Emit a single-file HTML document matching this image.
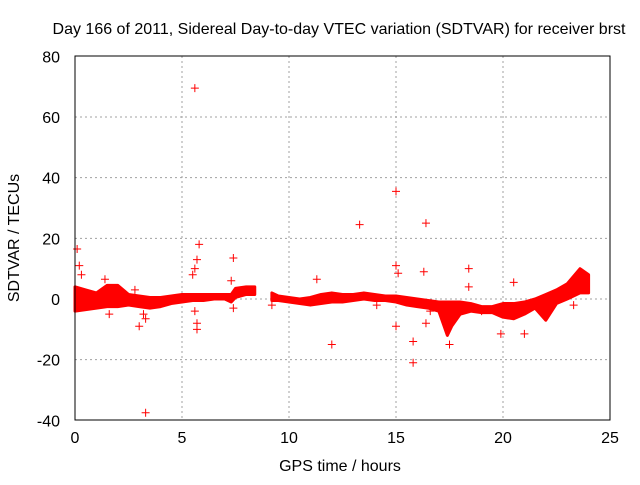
<!DOCTYPE html>
<html><head><meta charset="utf-8"><style>
body{margin:0;background:#fff}
svg text{font-family:"Liberation Sans",sans-serif;font-size:16px;fill:#000}
</style></head><body>
<svg id="chart" width="640" height="480">
<text x="339" y="34" text-anchor="middle">Day 166 of 2011, Sidereal Day-to-day VTEC variation (SDTVAR) for receiver brst</text>
<text x="340" y="471" text-anchor="middle">GPS time / hours</text>
<text transform="translate(19,238) rotate(-90)" text-anchor="middle">SDTVAR / TECUs</text>
<g id="grid"></g><g id="band"></g><g id="pts"></g>
<rect x="75" y="56" width="535" height="364" fill="none" stroke="#000" stroke-width="1"/>
</svg>
<script>
const xTicks=[0,5,10,15,20,25];
const yTicks=[-40,-20,0,20,40,60,80];
const bandSeg1T=[0,0.5,1,1.5,2,2.5,3,3.5,4,4.5,5,5.5,6,6.5,7,7.3,7.5,8,8.4];
const bandSeg1Hi=[4,3,2,4.5,4.5,1.5,1,0.5,0.5,1,1.5,1.5,1.5,1.5,1.5,1.5,3.5,4,4];
const bandSeg1Lo=[-4,-3.5,-3,-2.5,-2.5,-2,-2.5,-3,-2.5,-1.5,-1,-0.5,-0.5,0,0,-1,0.5,1.5,1.5];
const bandSeg2T=[9.2,9.5,10,10.5,11,11.5,12,12.5,13,13.5,14,14.5,15,15.5,16,16.5,17,17.4,17.6,18,18.5,19,19.5,20,20.5,21,21.5,22,22.5,23,23.6,24];
const bandSeg2Hi=[2,1,0.5,0,0.5,1.5,2,1.5,1.5,2,1.5,1,1,0.5,0,-0.5,-1,-1,-1,-1,-1.5,-2.5,-2.5,-1.5,-1.5,-1,0,1.5,3,5,10,8];
const bandSeg2Lo=[-0.5,-0.5,-1,-1.5,-2,-1.5,-1,-1,-0.5,0,-0.5,-0.5,-1,-2,-2.5,-3,-4,-12,-9,-5,-4,-4.5,-4.5,-6,-6.5,-5,-3,-7,-1.5,0,2,2];
const outT=[0.1,0.2,0.3,5.6,3.3,5.8,5.7,5.6,5.5,5.6,5.7,5.7,7.4,7.3,7.4,11.3,12,13.3,15,15,15.1,15,15.8,15.8,16.4,16.3,16.4,18.4,19.9,20.5,21,23.3,3,3.2,3.3,1.6,1.4,2.8,9.2,17.5,18.4,19,14.1,16.6,17.2];
const outV=[16.5,11,8,69.5,-37.5,18,13,10,8,-4,-8,-10,13.5,6,-3,6.5,-15,24.5,35.5,11,8.5,-9,-14,-21,25,9,-8,10,-11.5,5.5,-11.5,-2,-9,-5,-6.5,-5,6.5,3,-2,-15,4,-4,-2,-4,-3];
const NS="http://www.w3.org/2000/svg";
const X=t=>75+t*(535/25), Y=v=>299-v*(364/120);
const grid=document.getElementById('grid'),svg=document.getElementById('chart');
function mk(tag,attrs,parent){const e=document.createElementNS(NS,tag);for(const k in attrs)e.setAttribute(k,attrs[k]);parent.appendChild(e);return e;}
xTicks.forEach((t,i)=>{
  if(i>0&&i<xTicks.length-1){const l=mk('line',{x1:X(t),x2:X(t),y1:56,y2:420,stroke:'#a0a0a0','stroke-dasharray':'2,3'},grid);
  
  }
  const tx=mk('text',{x:X(t),y:443,'text-anchor':'middle'},svg);tx.textContent=t;
  
  
});
yTicks.forEach((v,i)=>{
  if(i>0&&i<yTicks.length-1){const l=mk('line',{x1:75,x2:610,y1:Y(v),y2:Y(v),stroke:'#a0a0a0','stroke-dasharray':'2,3'},grid);
  
  }
  const tx=mk('text',{x:60,y:Y(v)+6,'text-anchor':'end'},svg);tx.textContent=v;
  
  
});
const band=document.getElementById('band');
[[bandSeg1T,bandSeg1Hi,bandSeg1Lo],[bandSeg2T,bandSeg2Hi,bandSeg2Lo]].forEach(([T,H,L])=>{
  let d='';T.forEach((t,i)=>d+=(i?'L':'M')+X(t)+','+Y(H[i]));
  for(let i=T.length-1;i>=0;i--)d+='L'+X(T[i])+','+Y(L[i]);
  const p=mk('path',{d:d+'Z',fill:'#ff0000',stroke:'#ff0000','stroke-width':3,'stroke-linejoin':'round'},band);
  
  
});
const pts=document.getElementById('pts');
outT.forEach((t,i)=>{
  const x=X(t),y=Y(outV[i]);
  const p=mk('path',{d:`M${x-4},${y}H${x+4}M${x},${y-4}V${y+4}`,stroke:'#ff0000','stroke-width':1},pts);
  
  
});
</script>
</body></html>
